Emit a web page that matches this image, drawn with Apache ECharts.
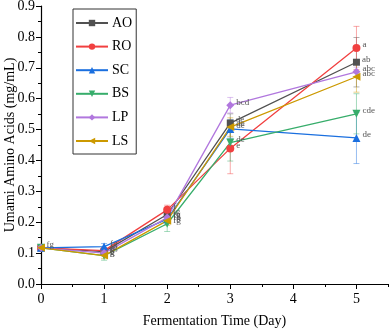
<!DOCTYPE html>
<html><head><meta charset="utf-8">
<script src="https://cdn.jsdelivr.net/npm/echarts@6/dist/echarts.min.js"></script>
<style>html,body{margin:0;padding:0;background:#fff}#c{width:390px;height:330px}</style>
</head><body><div id="c"></div>
<script>
const days = [0, 1, 2, 3, 5];
const seriesNames = ['AO', 'RO', 'SC', 'BS', 'LP', 'LS'];
const AO = [0.117, 0.105, 0.225, 0.521, 0.718];
const RO = [0.117, 0.108, 0.240, 0.439, 0.764];
const SC = [0.117, 0.121, 0.210, 0.502, 0.473];
const BS = [0.117, 0.092, 0.195, 0.458, 0.551];
const LP = [0.117, 0.100, 0.215, 0.579, 0.687];
const LS = [0.117, 0.092, 0.205, 0.508, 0.671];
const AO_err = [0.005, 0.010, 0.015, 0.030, 0.080];
const RO_err = [0.005, 0.010, 0.015, 0.082, 0.070];
const SC_err = [0.005, 0.010, 0.015, 0.030, 0.083];
const BS_err = [0.005, 0.015, 0.025, 0.060, 0.065];
const LP_err = [0.005, 0.010, 0.015, 0.025, 0.015];
const LS_err = [0.005, 0.010, 0.015, 0.030, 0.050];
const AO_sig = ['fg', 'g', 'fg', 'de', 'ab'];
const RO_sig = ['', 'fg', 'f', 'e', 'a'];
const SC_sig = ['', 'fg', 'fg', 'de', 'de'];
const BS_sig = ['', 'g', 'fg', 'de', 'cde'];
const LP_sig = ['', 'g', 'fg', 'bcd', 'abc'];
const LS_sig = ['', 'g', 'fg', 'de', 'abc'];
const xTicks = [0, 1, 2, 3, 4, 5];
const xMinorTicks = [0.5, 1.5, 2.5, 3.5, 4.5, 5.5];

const values = [AO, RO, SC, BS, LP, LS];
const errs = [AO_err, RO_err, SC_err, BS_err, LP_err, LS_err];
const sigs = [AO_sig, RO_sig, SC_sig, BS_sig, LP_sig, LS_sig];
const colors = ['#515151', '#F14040', '#1A6FDF', '#37AD6B', '#B177DE', '#CC9900'];
const symbols = ['rect', 'circle', 'triangle', 'triangle', 'diamond', 'triangle'];
const rotations = [0, 0, 0, 180, 0, 90];
const symSizes = [7, 8, 8, 8, 8, 8];
const font = 'Liberation Serif';

const series = [];
values.forEach((vals, i) => {
  const err = errs[i];
  series.push({
    type: 'custom',
    name: seriesNames[i] + ' err',
    xAxisIndex: 0,
    z: 1,
    silent: true,
    data: days.map((d, k) => [d, vals[k], err[k]]),
    renderItem: function (params, api) {
      const x = api.value(0), y = api.value(1), e = api.value(2);
      const top = api.coord([x, y + e]);
      const bot = api.coord([x, y - e]);
      const w = 3;
      const st = { stroke: colors[i], lineWidth: 1, opacity: 0.45 };
      return {
        type: 'group',
        children: [
          { type: 'line', shape: { x1: top[0], y1: top[1], x2: bot[0], y2: bot[1] }, style: st },
          { type: 'line', shape: { x1: top[0] - w, y1: top[1], x2: top[0] + w, y2: top[1] }, style: st },
          { type: 'line', shape: { x1: bot[0] - w, y1: bot[1], x2: bot[0] + w, y2: bot[1] }, style: st }
        ]
      };
    }
  });
});
values.forEach((vals, i) => {
  series.push({
    type: 'line',
    name: seriesNames[i],
    xAxisIndex: 0,
    z: 3,
    data: days.map((d, k) => [d, vals[k]]),
    symbol: symbols[i],
    symbolRotate: rotations[i],
    symbolSize: symSizes[i],
    showAllSymbol: true,
    color: colors[i],
    lineStyle: { width: 1.3, color: colors[i] },
    itemStyle: { color: colors[i] },
    label: {
      show: true,
      position: 'right',
      distance: 2,
      offset: [0, -3],
      fontFamily: font,
      fontSize: 9,
      color: '#555',
      formatter: p => sigs[i][p.dataIndex]
    }
  });
});

const chart = echarts.init(document.getElementById('c'), null, { renderer: 'canvas' });
chart.setOption({
  animation: false,
  backgroundColor: '#fff',
  grid: { left: 41, right: 2, top: 6, bottom: 46, containLabel: false, outerBoundsMode: 'none' },
  legend: {
    orient: 'vertical',
    left: 73, top: 9,
    data: seriesNames,
    itemWidth: 32, itemHeight: 8, itemGap: 9.6,
    padding: [7, 4, 6, 2],
    borderColor: '#333', borderWidth: 1,
    textStyle: { fontFamily: font, fontSize: 14, color: '#000', padding: [0, 0, 0, -1] }
  },
  xAxis: [{
    type: 'value', min: 0, max: 5.5, interval: 1,
    name: 'Fermentation Time (Day)', nameLocation: 'middle', nameGap: 30, nameMoveOverlap: false,
    nameTextStyle: { fontFamily: font, fontSize: 14, color: '#000' },
    axisLine: { lineStyle: { color: '#000', width: 1.2 } },
    axisTick: { show: true, length: 5, inside: false, customValues: xTicks, lineStyle: { color: '#000' } },
    axisLabel: { fontFamily: font, fontSize: 14, color: '#000', margin: 8, customValues: xTicks },
    splitLine: { show: false }
  }, {
    type: 'value', min: 0, max: 5.5, position: 'bottom', gridIndex: 0,
    axisLine: { show: false },
    axisTick: { show: true, length: 3, customValues: xMinorTicks, lineStyle: { color: '#000' } },
    axisLabel: { show: false },
    splitLine: { show: false }
  }],
  yAxis: {
    type: 'value', min: 0, max: 0.9, interval: 0.1,
    name: 'Umami Amino Acids (mg/mL)', nameLocation: 'middle', nameGap: 24, nameMoveOverlap: false,
    nameTextStyle: { fontFamily: font, fontSize: 14, color: '#000' },
    axisLine: { show: true, lineStyle: { color: '#000', width: 1.2 } },
    axisTick: { show: true, length: 5, lineStyle: { color: '#000' } },
    minorTick: { show: true, splitNumber: 2, length: 3, lineStyle: { color: '#000' } },
    axisLabel: { fontFamily: font, fontSize: 14, color: '#000', margin: 6, formatter: v => v.toFixed(1) },
    splitLine: { show: false }
  },
  series: series
});
</script>
</body></html>
